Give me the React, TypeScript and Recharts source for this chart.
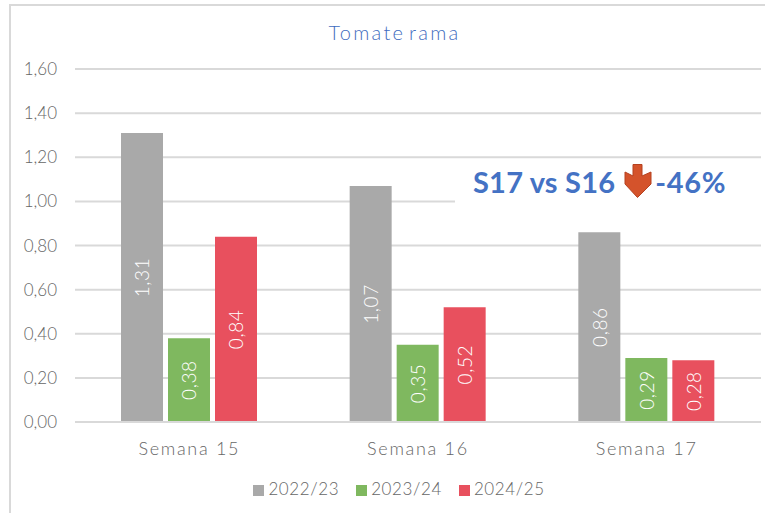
import React from 'react';
import { BarChart, Bar, XAxis, YAxis, CartesianGrid, Legend, LabelList } from 'recharts';

const weeks = ['Semana 15', 'Semana 16', 'Semana 17'];
const values2223 = [1.31, 1.07, 0.86];
const values2324 = [0.38, 0.35, 0.29];
const values2425 = [0.84, 0.52, 0.28];
const yTicks = [0, 0.2, 0.4, 0.6, 0.8, 1.0, 1.2, 1.4, 1.6];

const chartData = weeks.map((week, i) => ({
  week,
  s2223: values2223[i],
  s2324: values2324[i],
  s2425: values2425[i],
}));

const FONT = "'Lato', 'Open Sans', sans-serif";
const TEXT_GREY = '#666666';
const comma = (v: number) => v.toFixed(2).replace('.', ',');

// rotated value inside the bar, like the excel data labels
const RotatedLabel = ({ x, y, width, height, value }: any) => {
  const cx = x + width / 2;
  const cy = y + height / 2;
  return (
    <text
      x={cx}
      y={cy}
      transform={`rotate(-90 ${cx} ${cy})`}
      textAnchor="middle"
      dominantBaseline="central"
      fill="#ffffff"
      fontSize={19}
      fontWeight={300}
      letterSpacing={0.6}
      fontFamily={FONT}
    >
      {comma(value)}
    </text>
  );
};

export default function App() {
  return (
    <div style={{ position: 'absolute', left: 0, top: 0, width: 765, height: 513, background: '#fff', overflow: 'hidden', fontFamily: FONT }}>
      <div style={{ position: 'absolute', left: 9, top: 4, width: 780, height: 530, border: '2px solid #d9d9d9', boxSizing: 'border-box' }} />
      <div style={{ position: 'absolute', left: 0, width: 789, top: 20, textAlign: 'center', color: '#3f6cc0', fontSize: 20, fontWeight: 300, letterSpacing: 2.3, wordSpacing: -4 }}>
        Tomate rama
      </div>
      <BarChart
        width={765}
        height={513}
        data={chartData}
        margin={{ top: 69, right: 4, bottom: 40, left: 0 }}
        barGap={5}
        style={{ position: 'absolute', left: 0, top: 0 }}
      >
        <CartesianGrid vertical={false} stroke="#d9d9d9" strokeWidth={2} />
        <XAxis
          dataKey="week"
          tickLine={false}
          axisLine={{ stroke: '#d9d9d9', strokeWidth: 2 }}
          tick={{ fill: TEXT_GREY, fontSize: 18, fontWeight: 300, letterSpacing: 1.7, fontFamily: FONT }}
          tickMargin={14}
        />
        <YAxis
          domain={[0, 1.6]}
          ticks={yTicks}
          width={75}
          tickLine={false}
          axisLine={false}
          tickFormatter={comma}
          tick={{ fill: TEXT_GREY, fontSize: 17, fontWeight: 300, fontFamily: FONT }}
          tickMargin={12}
        />
        <Legend
          verticalAlign="bottom"
          iconType="square"
          iconSize={11}
          wrapperStyle={{ fontSize: 17, bottom: 14, left: 27, fontWeight: 300, letterSpacing: 0.6 }}
          formatter={(v: string) => <span style={{ color: TEXT_GREY, paddingRight: 7 }}>{v}</span>}
        />
        <Bar dataKey="s2223" name="2022/23" fill="#a9a9a9" barSize={42} isAnimationActive={false}>
          <LabelList dataKey="s2223" content={RotatedLabel} />
        </Bar>
        <Bar dataKey="s2324" name="2023/24" fill="#7fb85f" barSize={42} isAnimationActive={false}>
          <LabelList dataKey="s2324" content={RotatedLabel} />
        </Bar>
        <Bar dataKey="s2425" name="2024/25" fill="#e8505e" barSize={42} isAnimationActive={false}>
          <LabelList dataKey="s2425" content={RotatedLabel} />
        </Bar>
      </BarChart>
      <div style={{ position: 'absolute', left: 455, top: 160, width: 310, height: 48, background: '#fff' }} />
      <div style={{ position: 'absolute', left: 473, top: 164, color: '#4472c4', fontSize: 29, fontWeight: 700, whiteSpace: 'nowrap', display: 'flex', alignItems: 'center' }}>
        <span style={{ letterSpacing: 0.2 }}>S17 vs S16</span>
        <svg width={28} height={34} viewBox="0 0 28 34" style={{ margin: '0 3px 0 9px', position: 'relative', top: -1 }}>
          <polygon points="9,0.5 18,0.5 18,12 27,8 27,20 13.5,33.5 1,20 1,8 9,12" fill="#d4532b" stroke="#b5411f" strokeWidth={1} />
        </svg>
        <span style={{ letterSpacing: 0.7 }}>-46%</span>
      </div>
    </div>
  );
}
